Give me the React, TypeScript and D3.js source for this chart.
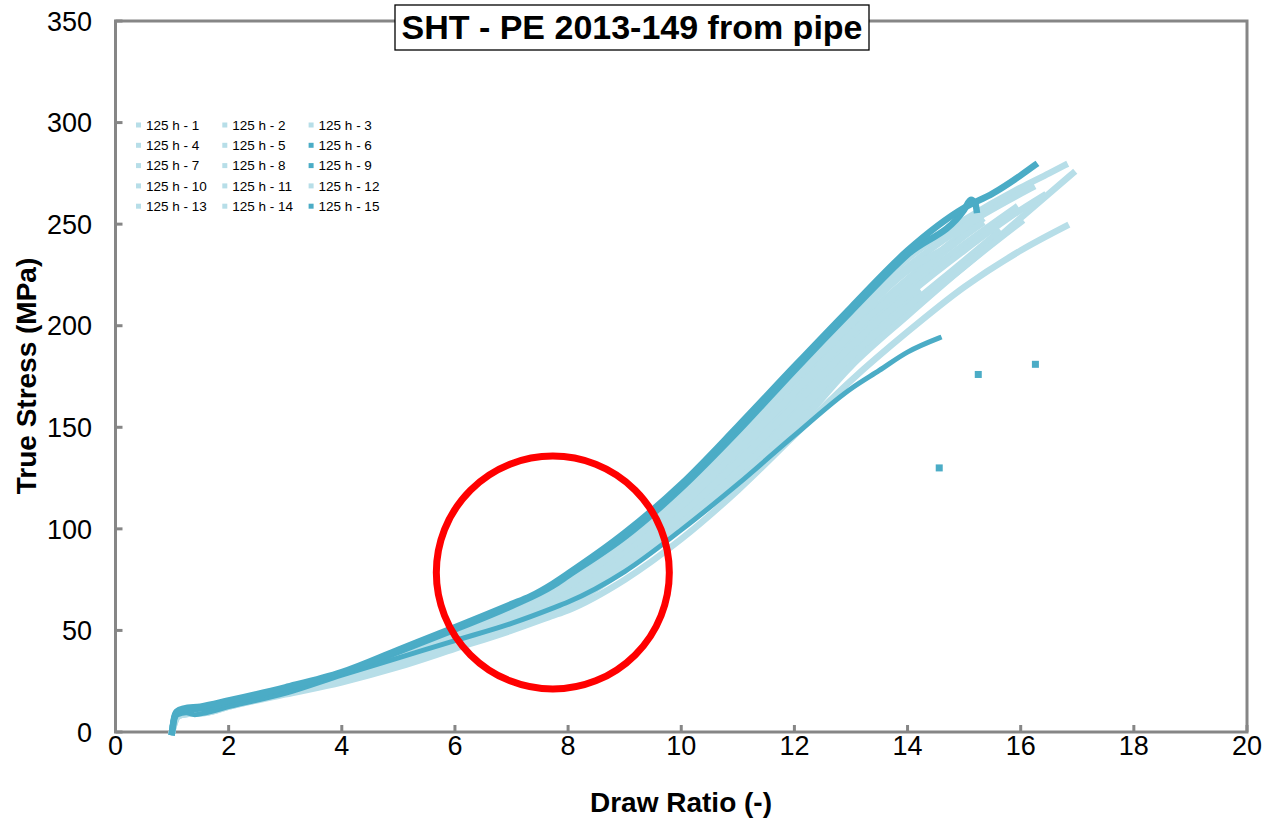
import React from 'react';
import * as d3 from 'd3';

// draw ratio / true stress, one array per specimen
type Pt = [number, number];
const s1: Pt[] = [[1,0],[1.03,5],[1.08,9],[1.2,10.5],[1.5,11],[2,14.5],[3,21],[4,28.5],[5,38],[6,49],[7,60],[8,75],[9,95],[10,119],[11,148],[12,178],[13,207],[14,233],[15,252],[16,268],[16.5,275],[16.78,279]];
const s2: Pt[] = [[1,0],[1.03,4],[1.1,8.5],[1.3,9.5],[1.6,10],[2,13],[3,19],[4,26],[5,34],[6,43.5],[7,52.5],[8,63],[9,81],[10,102],[11,126],[12,152],[13,181],[14,207],[15,229],[16,253],[16.92,275]];
const s3: Pt[] = [[1,0],[1.04,4],[1.12,8],[1.3,9],[1.6,9.5],[2,12.5],[3,18.5],[4,24.5],[5,32],[6,41],[7,50],[7.7,57],[8,60],[9,75],[10,95],[11,119],[12,146],[13,173],[14,197],[15,219],[16,237],[16.8,249]];
const s4: Pt[] = [[1,0],[1.03,5],[1.09,9],[1.2,10],[1.5,10.5],[2,14],[3,20.5],[4,27.5],[5,36],[6,46.5],[7,57],[8,70],[9,90],[10,113],[11,141],[12,170],[13,198],[14,223],[15,246],[15.3,252]];
const s5: Pt[] = [[1,0],[1.03,5],[1.1,9],[1.25,10],[1.5,10],[2,14],[3,20],[4,27],[5,35.5],[6,45.5],[7,55.5],[8,68],[9,87],[10,109],[11,136],[12,164],[13,193],[14,218],[15,240],[15.9,258]];
const s6: Pt[] = [[1,0],[1.03,5],[1.1,8.5],[1.25,9.5],[1.4,8.5],[1.6,9.5],[2,12.5],[3,19],[4,28],[5,36.5],[6,45],[7,53.5],[7.73,61],[8,64],[9,79],[10,99.5],[11,122],[12,146],[13,169],[13.5,178],[14,187],[14.56,194]];
const s7: Pt[] = [[1,0],[1.03,5],[1.08,9.5],[1.2,10.5],[1.5,11],[2,14.5],[3,21],[4,28.5],[5,37.5],[6,48],[7,59],[8,73],[9,93],[10,117],[11,145],[12,175],[13,204],[14,229],[15,249],[16,265],[16.2,268]];
const s8: Pt[] = [[1,0],[1.03,4.5],[1.1,8.5],[1.3,9.5],[1.6,10],[2,13.5],[3,19.5],[4,26.5],[5,34.5],[6,44.5],[7,54],[8,66],[9,84],[10,105],[11,131],[12,158],[13,187],[14,212],[14.2,216]];
const s9: Pt[] = [[1,0],[1.03,5.5],[1.08,9.5],[1.2,11],[1.5,11.5],[2,14.5],[3,21.5],[4,29],[5,39.5],[6,50.5],[7,62],[7.73,72],[8,77],[9,96],[10,120],[11,148],[12,178],[13,207],[14,235],[15,257],[15.12,262],[15.2,260],[15.22,257]];
const s10: Pt[] = [[1,0],[1.03,4],[1.1,8],[1.3,9],[1.6,9.5],[2,13],[3,19.5],[4,26],[5,34],[6,44],[7,53],[8,65],[9,82],[10,103],[11,128],[12,155],[13,185],[14,209],[15,232],[15.6,246]];
const s11: Pt[] = [[1,0],[1.03,5],[1.1,9],[1.25,10],[1.5,10.5],[2,14],[3,20.5],[4,27.5],[5,36],[6,46],[7,56],[8,69],[9,88],[10,111],[11,139],[12,167],[13,196],[14,221],[15,244],[15.3,250]];
const s12: Pt[] = [[1,0],[1.03,4.5],[1.1,8.5],[1.3,9.5],[1.6,10],[2,13.5],[3,20],[4,27],[5,35],[6,45],[7,54.5],[8,67],[9,85],[10,107],[11,133],[12,161],[13,190],[14,215],[15,237],[16,257],[16.4,264]];
const s13: Pt[] = [[1,0],[1.03,5],[1.09,9],[1.2,10],[1.5,10.5],[2,14],[3,21],[4,28],[5,37],[6,47.5],[7,58],[8,72],[9,92],[10,115],[11,143],[12,173],[13,201],[14,227],[14.8,240]];
const s14: Pt[] = [[1,0],[1.04,4],[1.12,8],[1.3,9],[1.6,9.5],[2,12.5],[3,19],[4,25.5],[5,33],[6,42.5],[7,51],[8,62],[9,80],[10,101],[11,124],[12,149],[13,180],[14,205],[15,229],[16,251]];
const s15: Pt[] = [[1,0],[1.03,6],[1.08,10],[1.2,11.5],[1.5,12.5],[2,15.5],[3,22],[4,29.5],[5,40.5],[6,51.5],[7,63],[7.32,66.6],[7.73,73],[8,78],[9,98],[10,122],[11,150.5],[12,180],[13,209],[14,237],[15,258],[15.5,265],[16,274],[16.25,279]];

const seriesNames = Array.from({ length: 15 }, (_, i) => `125 h - ${i + 1}`);
const seriesData = [s1, s2, s3, s4, s5, s6, s7, s8, s9, s10, s11, s12, s13, s14, s15];

// last recorded point after break
const breakSeries = [6, 9, 15];
const breakDrawRatio = [14.56, 15.25, 16.26];
const breakStress = [130, 176, 181];

const xTicks = [0, 2, 4, 6, 8, 10, 12, 14, 16, 18, 20];
const yTicks = [0, 50, 100, 150, 200, 250, 300, 350];

// highlighted region (annotation)
const circleCenter: Pt = [7.73, 78.5];

const LIGHT = '#B7DEE8';
const DARK = '#4BACC6';
const AXIS = '#868686';
const FONT = '"Liberation Sans", Arial, sans-serif';
const darkSet = new Set([6, 9, 15]);

export default function App() {
  const width = 1272;
  const height = 823;
  const x = d3.scaleLinear().domain([0, 20]).range([115.5, 1247]);
  const y = d3.scaleLinear().domain([0, 350]).range([732, 21]);

  const line = d3
    .line<Pt>()
    .x(d => x(d[0]))
    .y(d => y(d[1]))
    .curve(d3.curveMonotoneX);

  // light ones first, dark ones on top
  const order = seriesData
    .map((d, i) => i)
    .sort((a, b) => Number(darkSet.has(a + 1)) - Number(darkSet.has(b + 1)));

  return (
    <svg
      width={width}
      height={height}
      style={{ position: 'absolute', left: 0, top: 0, background: '#fff' }}
      fontFamily={FONT}
    >
      <rect width={width} height={height} fill="#fff" />

      {/* frame */}
      <rect
        x={x(0)}
        y={y(350)}
        width={x(20) - x(0)}
        height={y(0) - y(350)}
        fill="none"
        stroke={AXIS}
        strokeWidth={3}
      />

      {/* ticks, pointing in */}
      {xTicks.map(t => (
        <g key={'xt' + t}>
          <line x1={x(t)} x2={x(t)} y1={y(0)} y2={y(0) - 7} stroke={AXIS} strokeWidth={3} />
          <text x={x(t)} y={y(0) + 23} textAnchor="middle" fontSize={27} fill="#000">
            {t}
          </text>
        </g>
      ))}
      {yTicks.map(t => (
        <g key={'yt' + t}>
          <line x1={x(0)} x2={x(0) + 7} y1={y(t)} y2={y(t)} stroke={AXIS} strokeWidth={3} />
          <text x={92} y={y(t) + 9.7} textAnchor="end" fontSize={27} fill="#000">
            {t}
          </text>
        </g>
      ))}

      {/* curves */}
      {order.map(i => {
        const dark = darkSet.has(i + 1);
        return (
          <path
            key={'s' + i}
            d={line(seriesData[i]) || ''}
            fill="none"
            stroke={dark ? DARK : LIGHT}
            strokeWidth={i + 1 === 6 ? 5 : 6.5}
            strokeLinejoin="round"
            strokeLinecap="square"
          />
        );
      })}
      {breakSeries.map((s, i) => (
        <rect
          key={'b' + s}
          x={x(breakDrawRatio[i]) - 3.5}
          y={y(breakStress[i]) - 3.5}
          width={7}
          height={7}
          fill={darkSet.has(s) ? DARK : LIGHT}
        />
      ))}

      {/* annotation circle */}
      <circle
        cx={x(circleCenter[0])}
        cy={y(circleCenter[1])}
        r={116.5}
        fill="none"
        stroke="#FF0000"
        strokeWidth={7}
      />

      {/* legend */}
      {seriesNames.map((name, i) => {
        const col = i % 3;
        const row = Math.floor(i / 3);
        const lx = 136 + col * 86.3;
        const ly = 125 + row * 20.3;
        return (
          <g key={name}>
            <rect x={lx} y={ly - 2.5} width={5} height={5} fill={darkSet.has(i + 1) ? DARK : LIGHT} />
            <text x={lx + 10} y={ly + 4.8} fontSize={13.5} fill="#000">
              {name}
            </text>
          </g>
        );
      })}

      {/* title */}
      <rect x={395} y={5} width={474} height={45} fill="#fff" stroke="#000" strokeWidth={1.3} />
      <text x={632} y={38.5} textAnchor="middle" fontSize={34} fontWeight="bold" fill="#000">
        SHT - PE 2013-149 from pipe
      </text>

      {/* axis titles */}
      <text x={681} y={812} textAnchor="middle" fontSize={28} fontWeight="bold" fill="#000">
        Draw Ratio (-)
      </text>
      <text
        transform="translate(36,376) rotate(-90)"
        textAnchor="middle"
        fontSize={28}
        fontWeight="bold"
        fill="#000"
      >
        True Stress (MPa)
      </text>
    </svg>
  );
}
